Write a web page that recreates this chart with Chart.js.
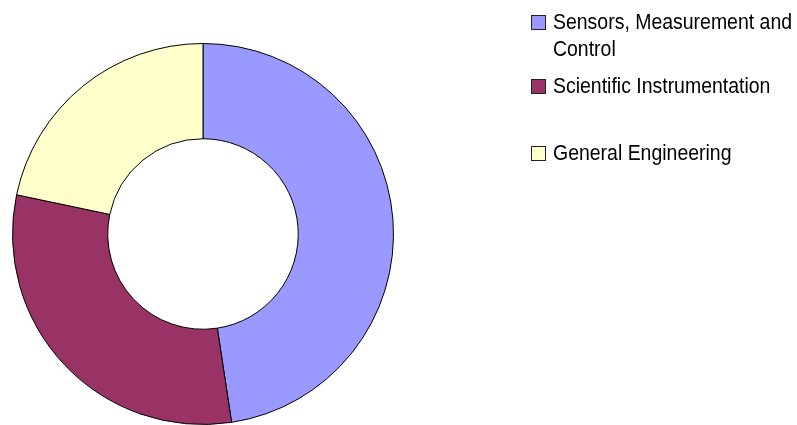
<!DOCTYPE html>
<html lang="en">
<head>
  <meta charset="UTF-8">
  <title>Subject areas</title>
  <script src="https://cdn.jsdelivr.net/npm/chart.js"></script>
  <style>
    html, body {
      margin: 0;
      padding: 0;
      background: #fff;
    }
    .wrap {
      position: relative;
      width: 797px;
      height: 425px;
      overflow: hidden;
    }
    canvas {
      position: absolute;
      left: 0;
      top: 0;
    }
    .legend {
      position: absolute;
      left: 531px;
      top: 0;
      font-family: "Liberation Sans", Arial, sans-serif;
      font-size: 21.5px;
      color: #000;
    }
    .item {
      position: absolute;
      left: 0;
      white-space: nowrap;
    }
    .box {
      position: absolute;
      left: 0;
      width: 13px;
      height: 13px;
      border: 1px solid #222;
    }
    .txt {
      position: absolute;
      left: 22px;
      line-height: 27px;
      transform: scaleX(0.905);
      transform-origin: left top;
    }
  </style>
</head>
<body>

<div class="wrap">
  <canvas id="grafico" width="797" height="425"></canvas>
  <div class="legend" id="legenda"></div>
</div>

<script>
  const categorias = [
    ["Sensors, Measurement and", "Control"],
    ["Scientific Instrumentation"],
    ["General Engineering"]
  ];
  const valores = [47.6, 30.7, 21.7];
  const cores = ["#9999FF", "#993366", "#FFFFCC"];

  // vertical centre of each legend entry's first line
  const legendaY = [22, 86, 153];

  const ctx = document.getElementById("grafico").getContext("2d");

  new Chart(ctx, {
    type: "doughnut",
    data: {
      labels: categorias.map(c => c.join(" ")),
      datasets: [{
        data: valores,
        backgroundColor: cores,
        borderColor: "#000",
        borderWidth: 1,
        hoverOffset: 0
      }]
    },
    options: {
      responsive: false,
      animation: false,
      cutout: "50%",
      layout: {
        padding: { left: 12, right: 403, top: 43, bottom: 0 }
      },
      plugins: {
        legend: { display: false },
        tooltip: { enabled: false }
      }
    }
  });

  const legenda = document.getElementById("legenda");
  categorias.forEach((linhas, i) => {
    const item = document.createElement("div");
    item.className = "item";
    item.style.top = (legendaY[i] - 13.5) + "px";
    item.innerHTML = `
      <div class="box" style="background:${cores[i]}; top:6px"></div>
      <div class="txt">${linhas.join("<br>")}</div>
    `;
    legenda.appendChild(item);
  });
</script>

</body>
</html>
